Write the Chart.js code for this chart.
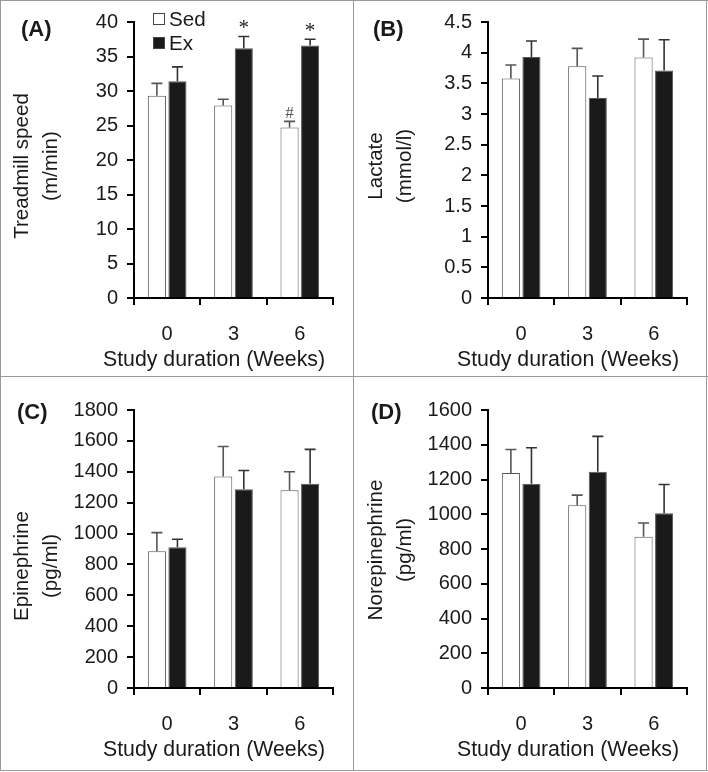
<!DOCTYPE html>
<html>
<head>
<meta charset="utf-8">
<script src="https://cdn.jsdelivr.net/npm/chart.js@4"></script>
<style>
    body { margin: 0; background: #fff; }
    #wrap { position: relative; width: 708px; height: 772px; background: #fff; }
    #wrap canvas { position: absolute; }
    .line { position: absolute; background: #9a9a9a; }
</style>
</head>
<body>
<div id="wrap">
    <canvas id="chartA" width="353" height="376" style="left:0;top:0"></canvas>
    <canvas id="chartB" width="353" height="376" style="left:354px;top:0"></canvas>
    <canvas id="chartC" width="353" height="393" style="left:0;top:377px"></canvas>
    <canvas id="chartD" width="353" height="393" style="left:354px;top:377px"></canvas>
    <div class="line" style="left:0;top:0;width:708px;height:1px"></div>
    <div class="line" style="left:0;top:770px;width:708px;height:1px"></div>
    <div class="line" style="left:0;top:0;width:1px;height:771px"></div>
    <div class="line" style="left:706px;top:0;width:1px;height:771px"></div>
    <div class="line" style="left:353px;top:0;width:1px;height:771px"></div>
    <div class="line" style="left:0;top:376px;width:708px;height:1px"></div>
</div>
<script>
// data
const weeks = ["0", "3", "6"];
const groups = ["Sed", "Ex"];

const speedSed = [29.3, 27.9, 24.7];
const speedSedErr = [1.8, 0.9, 0.9];
const speedEx = [31.4, 36.2, 36.6];
const speedExErr = [2.1, 1.7, 0.9];
const speedSedMarks = ["", "", "#"];
const speedExMarks = ["", "*", "*"];

const lactateSed = [3.58, 3.78, 3.92];
const lactateSedErr = [0.22, 0.29, 0.30];
const lactateEx = [3.93, 3.26, 3.71];
const lactateExErr = [0.26, 0.36, 0.50];

const epiSed = [885, 1369, 1281];
const epiSedErr = [121, 195, 119];
const epiEx = [911, 1287, 1322];
const epiExErr = [52, 121, 223];

const norepiSed = [1237, 1052, 871];
const norepiSedErr = [136, 58, 79];
const norepiEx = [1175, 1244, 1006];
const norepiExErr = [208, 204, 165];

const speedAxis = [0, 40, 5];
const lactateAxis = [0, 4.5, 0.5];
const epiAxis = [0, 1800, 200];
const norepiAxis = [0, 1600, 200];

const FONT = "'Liberation Sans', Arial, sans-serif";
Chart.defaults.font.family = FONT;
Chart.defaults.font.size = 20;
Chart.defaults.color = "#1a1a1a";

const errorBars = {
    id: "errorBars",
    afterDatasetsDraw(chart) {
        const ctx = chart.ctx;
        const y = chart.scales.y;
        chart.data.datasets.forEach(function (ds, i) {
            const meta = chart.getDatasetMeta(i);
            meta.data.forEach(function (bar, j) {
                const top = y.getPixelForValue(ds.data[j] + ds.errors[j]);
                ctx.save();
                ctx.strokeStyle = ds.errorColor;
                ctx.lineWidth = 1.6;
                ctx.beginPath();
                ctx.moveTo(bar.x, bar.y);
                ctx.lineTo(bar.x, top);
                ctx.moveTo(bar.x - 5.5, top);
                ctx.lineTo(bar.x + 5.5, top);
                ctx.stroke();
                const mark = ds.marks ? ds.marks[j] : "";
                if (mark) {
                    ctx.fillStyle = mark === "#" ? "#555" : "#222";
                    ctx.font = (mark === "#" ? "17px" : "21px") + " 'Liberation Serif', 'Times New Roman', serif";
                    ctx.textAlign = "center";
                    ctx.textBaseline = "alphabetic";
                    ctx.fillText(mark, bar.x, top - (mark === "#" ? 3 : 2));
                }
                ctx.restore();
            });
        });
    }
};

const panelText = {
    id: "panelText",
    afterDraw(chart, args, o) {
        const ctx = chart.ctx;
        const area = chart.chartArea;
        ctx.save();
        ctx.fillStyle = "#1a1a1a";
        ctx.font = "bold 22px " + FONT;
        ctx.textAlign = "left";
        ctx.textBaseline = "alphabetic";
        ctx.fillText(o.label, o.labelX, o.labelY);

        ctx.font = "21.3px " + FONT;
        ctx.textAlign = "center";
        ctx.fillText(o.xTitle, area.left + 80, area.bottom + 68);

        ctx.font = "20.6px " + FONT;
        ctx.textBaseline = "middle";
        o.yTitle.forEach(function (line, k) {
            ctx.save();
            ctx.translate(22 + k * 29.5, o.yTitleY);
            ctx.rotate(-Math.PI / 2);
            ctx.fillText(line, 0, 0);
            ctx.restore();
        });

        if (o.legend) {
            ctx.font = "20.6px " + FONT;
            ctx.textAlign = "left";
            ctx.textBaseline = "alphabetic";
            chart.data.datasets.forEach(function (ds, i) {
                const top = 13 + i * 24;
                ctx.fillStyle = ds.backgroundColor;
                ctx.fillRect(153, top, 12, 12);
                ctx.strokeStyle = "#444";
                ctx.lineWidth = 1;
                ctx.strokeRect(153.5, top + 0.5, 11, 11);
                ctx.fillStyle = "#1a1a1a";
                ctx.fillText(ds.label, 169, top + 13);
            });
        }
        ctx.restore();
    }
};

function makeChart(id, sed, sedErr, ex, exErr, axis, text, areaTop, xAxisH, sedMarks, exMarks) {
    const ctx = document.getElementById(id).getContext("2d");
    return new Chart(ctx, {
        type: "bar",
        data: {
            labels: weeks,
            datasets: [
                {
                    label: groups[0],
                    data: sed,
                    errors: sedErr,
                    marks: sedMarks,
                    errorColor: "#555555",
                    backgroundColor: "#ffffff",
                    borderColor: "#555555",
                    borderWidth: 1,
                    categoryPercentage: 0.62,
                    barPercentage: 0.88
                },
                {
                    label: groups[1],
                    data: ex,
                    errors: exErr,
                    marks: exMarks,
                    errorColor: "#333333",
                    backgroundColor: "#1a1a1a",
                    borderColor: "#555555",
                    borderWidth: 1,
                    categoryPercentage: 0.62,
                    barPercentage: 0.88
                }
            ]
        },
        options: {
            responsive: false,
            animation: false,
            devicePixelRatio: 1,
            layout: { padding: { top: areaTop, right: 20, left: 0, bottom: 0 } },
            plugins: {
                legend: { display: false },
                tooltip: { enabled: false },
                panelText: text
            },
            scales: {
                x: {
                    offset: true,
                    grid: { offset: true, drawOnChartArea: false, tickLength: 7, color: "#000", lineWidth: 2 },
                    border: { color: "#000", width: 2 },
                    ticks: { padding: 17, maxRotation: 0 },
                    afterFit: function (s) { s.height = xAxisH; }
                },
                y: {
                    min: axis[0],
                    max: axis[1],
                    grid: { drawOnChartArea: false, tickLength: 7, color: "#000", lineWidth: 2 },
                    border: { color: "#000", width: 2 },
                    ticks: {
                        stepSize: axis[2],
                        padding: 9,
                        callback: function (v) { return String(+v.toFixed(2)); }
                    },
                    afterFit: function (s) { s.width = 134; }
                }
            }
        },
        plugins: [errorBars, panelText]
    });
}

makeChart("chartA", speedSed, speedSedErr, speedEx, speedExErr, speedAxis,
    { label: "(A)", labelX: 21, labelY: 36, yTitle: ["Treadmill speed", "(m/min)"], yTitleY: 166, xTitle: "Study duration (Weeks)", legend: true },
    22, 78, speedSedMarks, speedExMarks);

makeChart("chartB", lactateSed, lactateSedErr, lactateEx, lactateExErr, lactateAxis,
    { label: "(B)", labelX: 19, labelY: 36, yTitle: ["Lactate", "(mmol/l)"], yTitleY: 166, xTitle: "Study duration (Weeks)", legend: false },
    22, 78);

makeChart("chartC", epiSed, epiSedErr, epiEx, epiExErr, epiAxis,
    { label: "(C)", labelX: 17, labelY: 42, yTitle: ["Epinephrine", "(pg/ml)"], yTitleY: 189, xTitle: "Study duration (Weeks)", legend: false },
    33, 82);

makeChart("chartD", norepiSed, norepiSedErr, norepiEx, norepiExErr, norepiAxis,
    { label: "(D)", labelX: 17, labelY: 42, yTitle: ["Norepinephrine", "(pg/ml)"], yTitleY: 173, xTitle: "Study duration (Weeks)", legend: false },
    33, 82);
</script>
</body>
</html>
